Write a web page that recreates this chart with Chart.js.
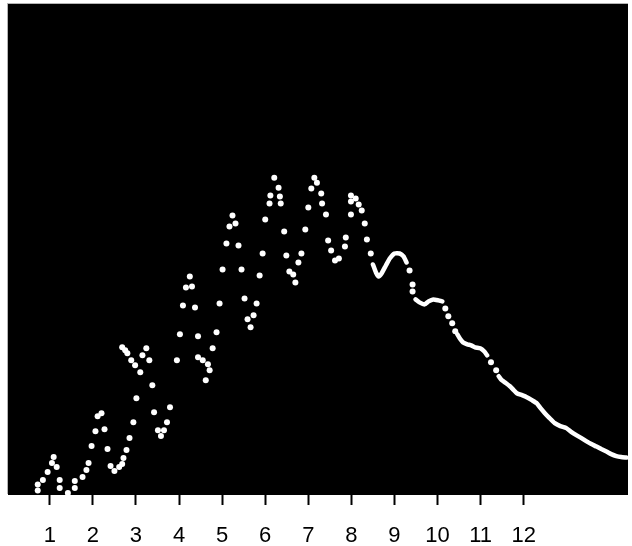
<!DOCTYPE html>
<html>
<head>
<meta charset="utf-8">
<script src="https://cdn.jsdelivr.net/npm/chart.js@4.4.1/dist/chart.umd.min.js"></script>
<style>
    html, body { margin: 0; padding: 0; background: #fff; }
    canvas { display: block; }
</style>
</head>
<body>
<canvas id="curveChart" width="632" height="546"></canvas>
<script>

// ========================
// DADOS
// ========================
const xTicks = [1, 2, 3, 4, 5, 6, 7, 8, 9, 10, 11, 12];

// pontos isolados (parte oscilante)
const dotX = [
    0.72, 0.72, 0.84, 0.95, 1.05, 1.09, 1.16, 1.23, 1.23, 1.42,
    1.58, 1.58, 1.76, 1.85, 1.90, 1.97, 2.06, 2.11, 2.20, 2.27,
    2.34, 2.41, 2.50, 2.61, 2.68, 2.71, 2.78, 2.85, 2.94, 3.01,
    2.68, 2.75, 2.80, 2.89, 2.98, 3.10, 3.24, 3.15, 3.31, 3.38,
    3.42, 3.51, 3.65, 3.58, 3.72, 3.79, 3.95, 4.02, 4.09, 4.16,
    4.25, 4.30, 4.37, 4.44, 4.44, 4.55, 4.67, 4.62, 4.71, 4.78,
    4.87, 4.94, 5.01, 5.10, 5.17, 5.24, 5.31, 5.38, 5.45, 5.52,
    5.59, 5.66, 5.73, 5.80, 5.87, 5.94, 6.00, 6.10, 6.12, 6.21,
    6.31, 6.34, 6.36, 6.44, 6.49, 6.56, 6.65, 6.70, 6.77, 6.84,
    6.93, 7.00, 7.07, 7.14, 7.20, 7.30, 7.32, 7.41, 7.46, 7.53,
    7.62, 7.71, 7.85, 7.87, 7.99, 7.99, 8.10, 8.17, 8.24, 7.99,
    8.31, 8.36, 8.45,
    9.35, 9.42, 9.42,
    10.18, 10.25, 10.34, 10.41,
    11.24, 11.36
];
const dotY = [
    10.5, 4.5, 15, 23, 32, 38, 28, 15, 7, 2,
    14, 7, 18, 25, 32, 49, 64, 79, 82, 66,
    46, 29, 24, 28, 31, 37, 45, 57, 73, 97,
    148, 145, 142, 135, 130, 123, 147, 140, 135, 110,
    83, 65, 65, 59, 73, 88, 135, 161, 190, 208,
    219, 209, 188, 159, 138, 135, 131, 115, 125, 147,
    163, 192, 226, 252, 269, 280, 272, 250, 226, 197,
    176, 168, 180, 192, 220, 242, 276, 292, 300, 318,
    308, 299, 292, 264, 240, 224, 221, 213, 233, 242,
    266, 288, 307, 318, 313, 302, 292, 281, 255, 245,
    235, 237, 249, 258, 300, 294, 297, 291, 285, 281,
    272, 256, 242,
    225, 211, 204,
    187, 179, 172, 164,
    133, 125
];

// trecho contínuo (null = interrupção)
const traceX = [
    8.50, 8.57, 8.63, 8.70, 8.80, 8.89, 9.00, 9.12, 9.21, 9.28,
    9.30,
    9.49, 9.58, 9.70, 9.79, 9.90, 10.02, 10.11,
    10.15,
    10.46, 10.53, 10.59, 10.69, 10.78, 10.87, 10.99, 11.08, 11.15,
    11.20,
    11.42, 11.49, 11.59, 11.68, 11.77, 11.84, 11.96, 12.07, 12.19, 12.30,
    12.39, 12.49, 12.60, 12.72, 12.85, 12.99, 13.11, 13.22, 13.34, 13.45,
    13.57, 13.69, 13.80, 13.92, 14.03, 14.15, 14.26, 14.38
];
const traceY = [
    231, 223, 219, 222, 230, 237, 242, 242, 239, 233,
    null,
    196, 193, 191, 194, 196, 195, 194,
    null,
    161, 156, 153, 151, 150, 148, 147, 144, 140,
    null,
    119, 115, 112, 109, 105, 102, 100, 98, 95, 92,
    87, 82, 77, 72, 69, 67, 63, 60, 57, 54,
    51, 48.5, 46, 43.5, 41, 39, 38, 37.5
];

// ========================
// FUNDO PRETO
// ========================
const blackArea = {
    id: 'blackArea',
    beforeDraw(chart) {
        const { ctx, chartArea: a } = chart;
        ctx.save();
        ctx.fillStyle = '#000';
        ctx.fillRect(a.left, a.top, a.right - a.left, a.bottom - a.top);
        ctx.fillStyle = '#b4b4b4';
        ctx.fillRect(a.left - 1, a.top - 1, a.right - a.left + 1, 1);
        ctx.fillRect(a.left - 1, a.top - 1, 1, a.bottom - a.top);
        ctx.restore();
    }
};

// ========================
// GRÁFICO
// ========================
const ctx = document.getElementById('curveChart').getContext('2d');

new Chart(ctx, {
    type: 'scatter',
    data: {
        datasets: [
            {
                data: dotX.map((x, i) => ({ x: x, y: dotY[i] })),
                backgroundColor: '#fff',
                borderWidth: 0,
                pointRadius: 3,
                showLine: false
            },
            {
                data: traceX.map((x, i) => ({ x: x, y: traceY[i] })),
                borderColor: '#fff',
                borderWidth: 4.5,
                pointRadius: 0,
                showLine: true,
                spanGaps: false,
                tension: 0.15,
                borderCapStyle: 'round',
                borderJoinStyle: 'round'
            }
        ]
    },
    options: {
        responsive: false,
        animation: false,
        devicePixelRatio: 1,
        layout: {
            padding: { left: 8, top: 3, right: 0, bottom: 0 }
        },
        plugins: {
            legend: { display: false },
            tooltip: { enabled: false }
        },
        scales: {
            x: {
                type: 'linear',
                min: 0.03,
                max: 14.42,
                afterBuildTicks: scale => {
                    scale.ticks = xTicks.map(v => ({ value: v }));
                },
                afterFit: scale => {
                    scale.height = 51;
                },
                grid: {
                    drawOnChartArea: false,
                    drawTicks: true,
                    tickLength: 10,
                    tickWidth: 2,
                    tickColor: '#000'
                },
                border: { display: false },
                ticks: {
                    autoSkip: false,
                    maxRotation: 0,
                    padding: 18,
                    color: '#000',
                    font: { family: 'Liberation Sans', size: 22 },
                    callback: v => String(v)
                }
            },
            y: {
                display: false,
                min: 0,
                max: 492
            }
        }
    },
    plugins: [blackArea]
});
</script>
</body>
</html>
